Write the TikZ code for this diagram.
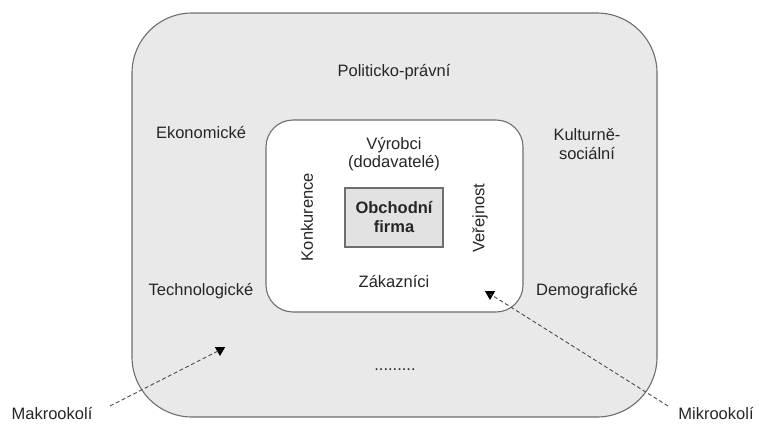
\documentclass[tikz,border=0pt]{standalone}
\usepackage{fontspec}
\setmainfont{Liberation Sans}
\usetikzlibrary{shapes.geometric}
\definecolor{envfill}{HTML}{E9E9E9}
\definecolor{firmfill}{HTML}{E2E2E2}
\definecolor{edge}{HTML}{6E6E6E}
\definecolor{ink}{HTML}{262626}
\begin{document}
\begin{tikzpicture}[x=1pt,y=-1pt,
  lbl/.style={text=ink,font=\fontsize{16.5}{18.5}\selectfont,align=center,inner sep=0pt},
  pointer/.style={draw=edge!70!black,dash pattern=on 4pt off 2.5pt,line width=0.9pt},
  tip/.style={regular polygon,regular polygon sides=3,shape border rotate=180,fill=black,draw=none,inner sep=0pt,minimum size=12pt}]
\useasboundingbox (0,0) rectangle (759,423);
% macro environment
\draw[fill=envfill,draw=edge,line width=1.1pt,rounded corners=60pt] (132,13) rectangle (657,417);
% micro environment
\draw[fill=white,draw=edge,line width=1.1pt,rounded corners=27pt] (266,120) rectangle (523,312);
% the firm
\node[draw=edge,line width=1.1pt,fill=firmfill,minimum width=98pt,minimum height=59pt,inner sep=0pt,
      text=ink,font=\fontsize{16.5}{19}\selectfont\bfseries,align=center] (firm) at (394,217.5) {Obchodní\\firma};
% macro factors
\node[lbl] (polit) at (394,72) {Politicko-právní};
\node[lbl] (ekon) at (201,133) {Ekonomické};
\node[lbl] (kult) at (587,144) {Kulturně-\\sociální};
\node[lbl] (tech) at (201,291) {Technologické};
\node[lbl] (demo) at (587,291) {Demografické};
\node[lbl] (dots) at (395,370) {.........};
% micro factors
\node[lbl] (vyr) at (394,154) {Výrobci\\(dodavatelé)};
\node[lbl,rotate=90] (konk) at (307,217) {Konkurence};
\node[lbl,rotate=90] (ver) at (480,218) {Veřejnost};
\node[lbl] (zak) at (394,282) {Zákazníci};
% pointers
\node[lbl] (makro) at (52,413) {Makrookolí};
\node[lbl] (mikro) at (716,413) {Mikrookolí};
\node[tip] (tipma) at (220,350) {};
\node[tip] (tipmi) at (490,294) {};
\coordinate (sma) at (110,406);
\coordinate (smi) at (668,406);
\draw[pointer] (sma) -- (tipma.center);
\draw[pointer] (smi) -- (tipmi.center);
\end{tikzpicture}
\end{document}
